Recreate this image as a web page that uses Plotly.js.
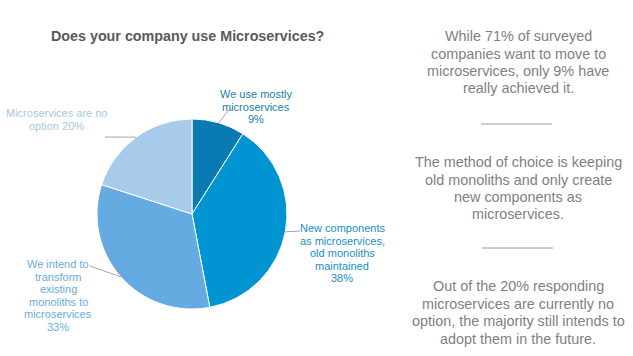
<!DOCTYPE html>
<html>
<head>
<meta charset="utf-8">
<script src="https://cdn.plot.ly/plotly-3.0.1.min.js"></script>
<style>html,body{margin:0;padding:0;background:#fff;}#chart{width:633px;height:356px;}</style>
</head>
<body>
<div id="chart"></div>
<script>
// ---- data ----
const categories = [
  "We use mostly microservices",
  "New components as microservices, old monoliths maintained",
  "We intend to transform existing monoliths to microservices",
  "Microservices are no option"
];
const values = [9, 38, 33, 20];
const sliceColors = ["#0a7ab2", "#0094d3", "#64abe1", "#a9cbeb"];
const labelLines = [
  ["We use mostly", "microservices", "9%"],
  ["New components", "as microservices,", "old monoliths", "maintained", "38%"],
  ["We intend to", "transform", "existing", "monoliths to", "microservices", "33%"],
  ["Microservices are no", "option 20%"]
];
const labelTextColors = ["#1a80aa", "#1590c8", "#6aacdc", "#a8c8e4"];
const titleText = "Does your company use Microservices?";
const sideNotes = [
  ["While 71% of surveyed", "companies want to move to", "microservices, only 9% have", "really achieved it."],
  ["The method of choice is keeping", "old monoliths and only create", "new components as", "microservices."],
  ["Out of the 20% responding", "microservices are currently no", "option, the majority still intends to", "adopt them in the future."]
];

// ---- layout geometry (pixels) ----
const W = 633, H = 356;
const pieBox = {x0: 97, x1: 287, y0: 119, y1: 309};
const labelCenters = [[256, 94], [342, 228], [58, 264], [56, 113]]; // first-line centers
const labelLineGap = 12.6;
const leaderEnds = [[[229, 110], [233, 110]], [[300, 231]], [[90, 266]], [[105, 137]]];
const notesX = 518;
const notesFirstY = [36, 162, 286];
const notesLineGap = 17.5;
const separators = [[481, 552, 124], [482, 553, 248]];

const px = x => x / W;
const py = y => 1 - y / H;

const cx = (pieBox.x0 + pieBox.x1) / 2, cy = (pieBox.y0 + pieBox.y1) / 2;
const r = Math.min(pieBox.x1 - pieBox.x0, pieBox.y1 - pieBox.y0) / 2;
const total = values.reduce((a, b) => a + b, 0);

const annotations = [];
const shapes = [];
const FONT = "Liberation Sans, Arial, sans-serif";

// title
annotations.push({
  xref: "paper", yref: "paper", x: px(187), y: py(36), xanchor: "center", yanchor: "middle",
  text: "<b>" + titleText + "</b>", showarrow: false,
  font: {family: FONT, size: 14.3, color: "#595959"}
});

// slice labels + leader lines computed from data
let cum = 0;
values.forEach((v, i) => {
  const mid = (cum + v / 2) / total * 2 * Math.PI;
  cum += v;
  const ex = cx + r * Math.sin(mid), ey = cy - r * Math.cos(mid);
  let path = "M " + px(ex) + "," + py(ey);
  leaderEnds[i].forEach(p => { path += " L " + px(p[0]) + "," + py(p[1]); });
  shapes.push({type: "path", xref: "paper", yref: "paper", path: path,
    line: {color: "#a6a6a6", width: 1}});
  labelLines[i].forEach((t, k) => {
    annotations.push({
      xref: "paper", yref: "paper", x: px(labelCenters[i][0]), y: py(labelCenters[i][1] + k * labelLineGap),
      xanchor: "center", yanchor: "middle", text: t, showarrow: false,
      font: {family: FONT, size: 11, color: labelTextColors[i]}
    });
  });
});

// side notes
sideNotes.forEach((lines, i) => {
  lines.forEach((t, k) => {
    annotations.push({
      xref: "paper", yref: "paper", x: px(notesX), y: py(notesFirstY[i] + k * notesLineGap),
      xanchor: "center", yanchor: "middle", text: t, showarrow: false,
      font: {family: FONT, size: 14.4, color: "#7f7f7f"}
    });
  });
});
separators.forEach(s => {
  shapes.push({type: "line", xref: "paper", yref: "paper",
    x0: px(s[0]), x1: px(s[1]), y0: py(s[2]), y1: py(s[2]),
    line: {color: "#9a9a9a", width: 1}});
});

const data = [{
  type: "pie",
  labels: categories,
  values: values,
  sort: false,
  direction: "clockwise",
  rotation: 0,
  textinfo: "none",
  hoverinfo: "label+percent",
  marker: {colors: sliceColors, line: {color: "#ffffff", width: 1}},
  domain: {x: [px(pieBox.x0), px(pieBox.x1)], y: [py(pieBox.y1), py(pieBox.y0)]},
  showlegend: false
}];

const layout = {
  width: W, height: H,
  margin: {l: 0, r: 0, t: 0, b: 0},
  paper_bgcolor: "#ffffff",
  showlegend: false,
  annotations: annotations,
  shapes: shapes
};

Plotly.newPlot("chart", data, layout, {displayModeBar: false, staticPlot: true});
</script>
</body>
</html>
